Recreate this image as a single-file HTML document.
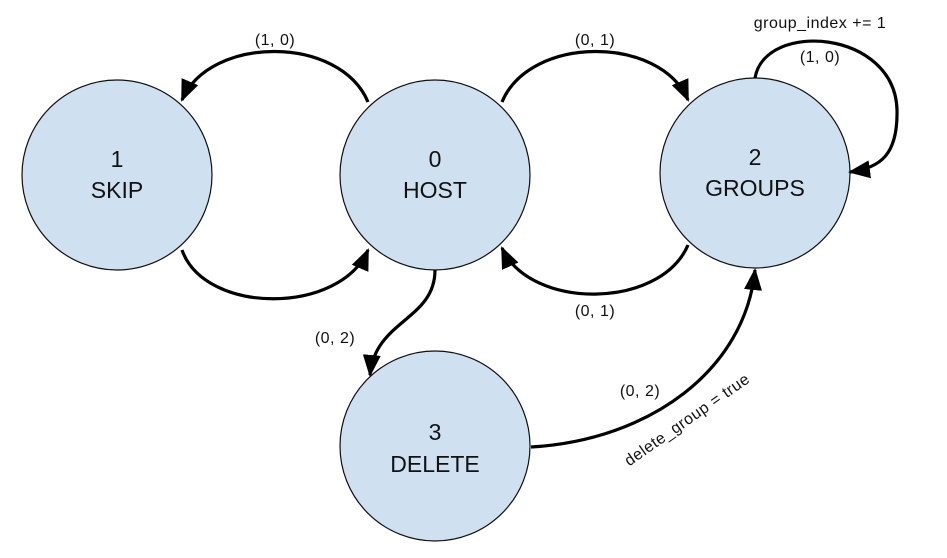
<!DOCTYPE html>
<html><head><style>
html,body{margin:0;padding:0;background:#fff;}
svg{display:block;font-family:"Liberation Sans",sans-serif;}
</style></head><body>
<svg width="947" height="558" viewBox="0 0 947 558" xmlns="http://www.w3.org/2000/svg">
<defs>
<marker id="b" markerWidth="22" markerHeight="22" refX="20" refY="11" orient="auto" markerUnits="userSpaceOnUse" viewBox="0 0 22 22">
<path d="M0,2 L22,11 L0,20 z" fill="#000"/>
</marker>
</defs>
<g fill="#cfe0f1" stroke="#111" stroke-width="1.2">
<circle cx="117" cy="175" r="95"/>
<circle cx="435" cy="175" r="95"/>
<circle cx="755" cy="173" r="95"/>
<circle cx="435" cy="446" r="95"/>
</g>
<g fill="none" stroke="#000" stroke-width="3.2" marker-end="url(#b)">
<path d="M368,102 C340,35 210,35 182,100"/>
<path d="M182,250 C205,315 340,315 368,250"/>
<path d="M502,102 C530,35 660,35 688,100"/>
<path d="M688,245 C660,310 530,310 502,248"/>
<path d="M755,78 C765,20 895,30 897,110 C898,155 880,168 850,172"/>
<path d="M435,270 C435,320 375,320 370,375"/>
<path d="M531,447 C650,440 745,370 755,270"/>
</g>
<g font-size="23" fill="#111" text-anchor="middle">
<text x="117" y="167">1</text><text x="117" y="198">SKIP</text>
<text x="435" y="167">0</text><text x="435" y="198">HOST</text>
<text x="755" y="165">2</text><text x="755" y="196">GROUPS</text>
<text x="435" y="440">3</text><text x="435" y="472">DELETE</text>
</g>
<g font-size="16" fill="#111" text-anchor="middle" letter-spacing="0.5">
<text x="275" y="45">(1, 0)</text>
<text x="595" y="45">(0, 1)</text>
<text x="820" y="28">group_index += 1</text>
<text x="820" y="62">(1, 0)</text>
<text x="595" y="316">(0, 1)</text>
<text x="335" y="343">(0, 2)</text>
<text x="640" y="396">(0, 2)</text>
<text x="0" y="0" transform="translate(690,424) rotate(-35)">delete_group = true</text>
</g>
</svg>
</body></html>
